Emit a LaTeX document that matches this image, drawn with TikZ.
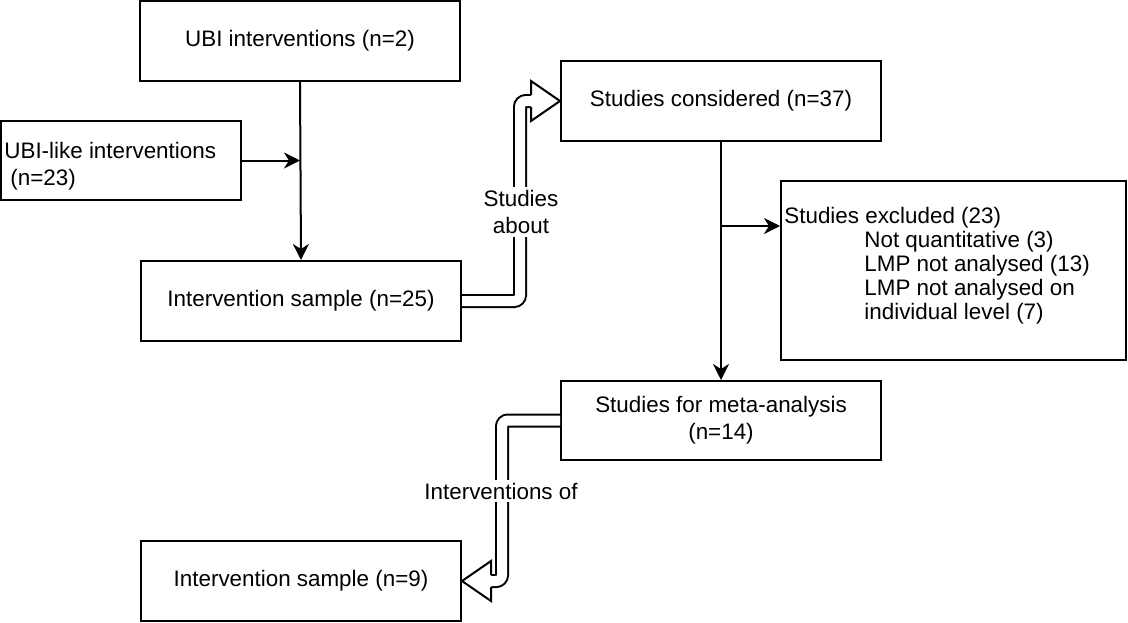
\documentclass[tikz,border=0pt]{standalone}
\usepackage{fontspec}
\setmainfont{Liberation Sans}
\usetikzlibrary{arrows.meta,calc}
\begin{document}
\begin{tikzpicture}[x=0.5pt,y=-0.5pt,
  font=\fontsize{11.2pt}{13.5pt}\selectfont,
  box/.style={draw,line width=1pt,minimum width=160pt,minimum height=40pt,inner sep=0pt,align=center},
  arr/.style={line width=1pt,-{Stealth[length=8pt,width=8pt,inset=2.5pt]}},
  dbl/.style={double,line width=1pt,double distance=5pt,rounded corners=3pt},
  head/.style={line width=1pt,line join=miter},
  lbl/.style={fill=white,inner sep=1.5pt,align=center},
  txt/.style={inner sep=0pt,anchor=base west}]
\useasboundingbox (0,0) rectangle (1128,622);
% boxes
\node[box] (b1) at (300,41) {UBI interventions (n=2)};
\node[box,minimum width=120pt,minimum height=39.5pt] (b2) at (121,160.5) {};
\node[inner sep=0pt,anchor=west,align=left] (t2) at (4,166) {UBI-like interventions\\\hspace*{3pt}(n=23)};
\node[box] (b3) at (301,301) {Intervention sample (n=25)};
\node[box] (b4) at (721,101) {Studies considered (n=37)};
\node[box,minimum width=172.5pt,minimum height=89.5pt] (b5) at (953.5,270.5) {};
\node[txt] (t5a) at (784,223) {Studies excluded (23)};
\node[txt] (t5b) at (864,247) {Not quantitative (3)};
\node[txt] (t5c) at (864,271) {LMP not analysed (13)};
\node[txt] (t5d) at (864,295) {LMP not analysed on};
\node[txt] (t5e) at (864,319) {individual level (7)};
\node[box,minimum height=39.5pt] (b6) at (721,420.5) {Studies for meta-analysis\\(n=14)};
\node[box] (b7) at (301,581) {Intervention sample (n=9)};
% single arrows
\draw[arr] (b1.south) -- (b3.north);
\draw[arr] (b2.east) -- (b2.east -| b1.south);
\draw[arr] (b4.south) -- (b6.north);
\coordinate (j2) at (721,226);
\draw[arr] (j2) -- (j2 -| b5.west);
% double arrow 1
\coordinate (h1) at ($(b4.west)+(-29,0)$);
\draw[dbl] (b3.east) -| ($(h1)+(-11,0)$) -- (h1);
\fill[white] ($(h1)+(0,-20)$) -- (b4.west) -- ($(h1)+(0,20)$) -- cycle;
\draw[head] ($(h1)+(0,-6)$) -- ($(h1)+(0,-20)$) -- (b4.west) -- ($(h1)+(0,20)$) -- ($(h1)+(0,6)$);
\node[lbl] (l1) at (521,212) {Studies\\about};
% double arrow 2
\coordinate (h2) at ($(b7.east)+(29,0)$);
\draw[dbl] (b6.west) -| ($(h2)+(11,0)$) -- (h2);
\fill[white] ($(h2)+(0,-20)$) -- (b7.east) -- ($(h2)+(0,20)$) -- cycle;
\draw[head] ($(h2)+(0,-6)$) -- ($(h2)+(0,-20)$) -- (b7.east) -- ($(h2)+(0,20)$) -- ($(h2)+(0,6)$);
\node[lbl] (l2) at (501,491) {Interventions of};
\end{tikzpicture}
\end{document}
